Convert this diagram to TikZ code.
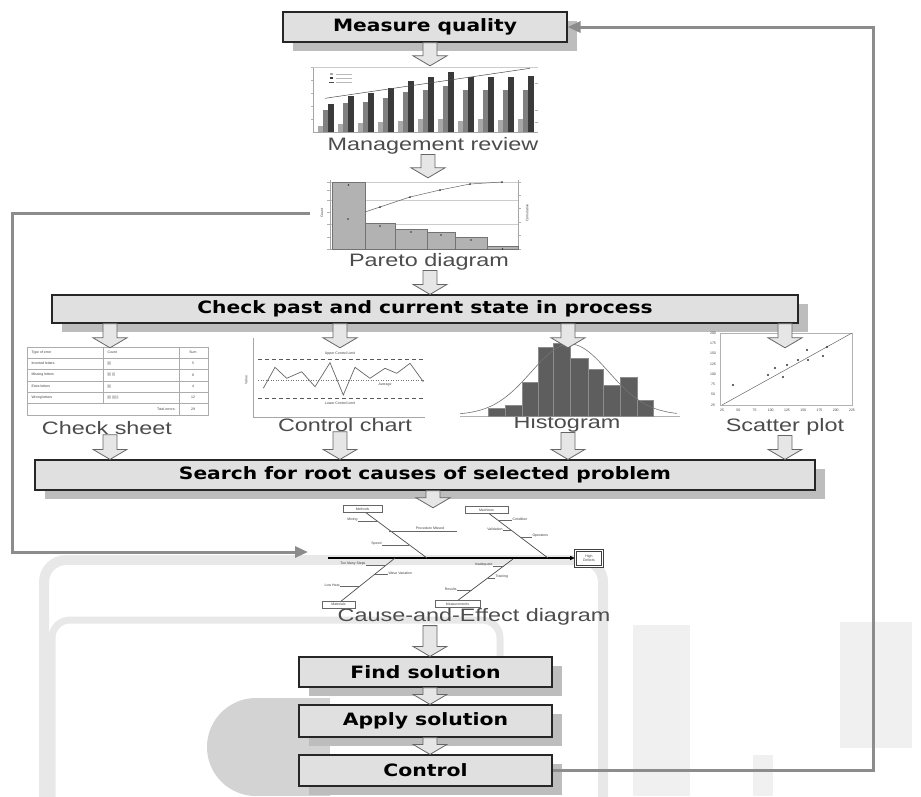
\documentclass[tikz,border=0pt]{standalone}
\usepackage{fontspec}
\setmainfont{Liberation Sans}
\newfontfamily\boxfont{DejaVu Sans}
\usetikzlibrary{arrows.meta,calc,shadows}
\definecolor{boxfill}{HTML}{E0E0E0}
\definecolor{shadowc}{HTML}{BDBDBD}
\definecolor{linec}{HTML}{8C8C8C}
\definecolor{arrowfill}{HTML}{E6E6E6}
\definecolor{wmA}{HTML}{E8E8E8}
\definecolor{wmC}{HTML}{F0F0F0}
\definecolor{wmB}{HTML}{D3D3D3}
\definecolor{barlight}{HTML}{A8A8A8}
\definecolor{barmid}{HTML}{808080}
\definecolor{bardark}{HTML}{3A3A3A}
\definecolor{histbar}{HTML}{5E5E5E}
\newcommand\capt[1]{\scalebox{1.3}[1]{#1}}
\newcommand\blk[3]{\draw[barrow] let \p1=(#2), \p2=(#3) in
  (#1pt-7pt,\y1) -- (#1pt+7pt,\y1) -- (#1pt+7pt,\y2+10pt) -- (#1pt+17pt,\y2+10pt)
  -- (#1pt,\y2) -- (#1pt-17pt,\y2+10pt) -- (#1pt-7pt,\y2+10pt) -- cycle;}
\begin{document}
\begin{tikzpicture}[x=1pt,y=-1pt,
  procbox/.style={draw=black!85, line width=1.2pt, fill=boxfill, inner sep=0pt,
    font=\boxfont\bfseries\fontsize{17}{20}\selectfont, text=black,
    drop shadow={shadow xshift=10pt, shadow yshift=-9pt, fill=shadowc, opacity=1}},
  barrow/.style={draw=black!60, fill=arrowfill, line width=0.8pt, line join=miter},
  fb/.style={draw=linec, line width=3pt},
  captxt/.style={font=\fontsize{18}{18}\selectfont, text=black!70, inner sep=0pt},
  chartframe/.style={inner sep=0pt, draw=none},
  tinyt/.style={font=\fontsize{3.5}{4}\selectfont, inner sep=0.3pt, text=black!75},
  axl/.style={draw=gray!70, line width=0.5pt},
  bone/.style={draw=black!70, line width=0.7pt},
  sub/.style={draw=black!60, line width=0.4pt},
  lbox/.style={draw=black!60, line width=0.8pt, fill=white, inner sep=0.6pt, font=\fontsize{3.5}{4}\selectfont, text=black!75}
]
\useasboundingbox (0,0) rectangle (921,796);
\fill[white] (0,0) rectangle (921,796);

% ---------- faint background watermark ----------
\draw[wmA, line width=10pt, rounded corners=22pt] (44,800) -- (44,560) -- (603,560) -- (603,800);
\draw[wmA, line width=7pt, rounded corners=18pt] (52,800) -- (52,620) -- (500,620) -- (500,665);
\fill[wmC] (633,625) rectangle (690,796);
\fill[wmC] (840,622) rectangle (912,748);
\fill[wmC] (753,755) rectangle (773,796);
\fill[wmB] (256,747) circle[radius=49];
\fill[wmB] (256,698) rectangle (330,796);

% ---------- process boxes ----------
\node[procbox, minimum width=284pt, minimum height=30pt] (measure) at (425,27) {\scalebox{1.19}[1]{Measure quality}};
\node[procbox, minimum width=746pt, minimum height=28pt] (check) at (425,309) {\scalebox{1.19}[1]{Check past and current state in process}};
\node[procbox, minimum width=780pt, minimum height=30pt] (search) at (425,475) {\scalebox{1.19}[1]{Search for root causes of selected problem}};
\node[procbox, minimum width=253pt, minimum height=30pt] (find) at (425.5,672) {\scalebox{1.2}[1]{Find solution}};
\node[procbox, minimum width=253pt, minimum height=32pt] (apply) at (425.5,721) {\scalebox{1.2}[1]{Apply solution}};
\node[procbox, minimum width=253pt, minimum height=31pt] (ctrl) at (425.5,770.5) {\scalebox{1.2}[1]{Control}};

% ---------- chart frames (invisible) and captions ----------
\node[chartframe, minimum width=225pt, minimum height=66pt] (bar) at (425.5,99) {};
\node[chartframe, minimum width=215pt, minimum height=70pt] (pareto) at (417.5,213) {};
\node[chartframe, minimum width=181pt, minimum height=67pt] (cs) at (117.5,381.5) {};
\node[chartframe, minimum width=184pt, minimum height=70pt] (cc) at (335,383) {};
\node[chartframe, minimum width=220pt, minimum height=68pt] (hist) at (570,382) {};
\node[chartframe, minimum width=155pt, minimum height=70pt] (sc) at (777.5,383) {};
\node[chartframe, minimum width=285pt, minimum height=102pt] (fish) at (462.5,559) {};
\coordinate (fishin) at (308,552);

\node[captxt] (barcap) at (433,146) {\capt{Management review}};
\node[captxt] (parcap) at (429,262) {\capt{Pareto diagram}};
\node[captxt] (cscap) at (107,428) {\capt{Check sheet}};
\node[captxt] (cccap) at (345,425) {\capt{Control chart}};
\node[captxt] (histcap) at (567,424) {\capt{Histogram}};
\node[captxt] (sccap) at (785,427) {\capt{Scatter plot}};
\node[captxt] (fishcap) at (474,617) {\capt{Cause-and-Effect diagram}};

% ---------- management review bar chart ----------
\draw[axl] (313,67) -- (313,132) -- (538,132);
\draw[gray!40, line width=0.4pt] (313,67) -- (538,67);
\foreach \t in {67,80,93,106,119} \draw[gray!60, line width=0.3pt] (311,\t) -- (313,\t);
\foreach \t in {83,110,122} \draw[gray!60, line width=0.3pt] (535,\t) -- (538,\t);
\foreach \i/\l/\m/\d in {0/126/110/104,1/124.3/102.7/95.7,2/123.3/101.7/92.7,3/121.7/98.3/88.3,
  4/120.7/91.7/81,5/119/90/77.3,6/119/86/72.3,7/120.7/90/77.3,8/119/90/77.3,9/120/90/77.3,10/119/90/76}{
  \fill[barlight] (318+20*\i,132) rectangle (323+20*\i,\l);
  \fill[barmid] (323+20*\i,132) rectangle (328+20*\i,\m);
  \fill[bardark] (328+20*\i,132) rectangle (333.5+20*\i,\d);
}
\draw[black!70, line width=0.5pt] (325,98.3) -- (530,68.3);
\fill[barlight] (330,73) rectangle (333,75);
\fill[bardark] (330,77) rectangle (333,79);
\draw[black!70, line width=0.4pt] (329,82) -- (334,82);
\foreach \yy in {74,78,82} \draw[gray!55, line width=0.6pt] (336,\yy) -- (352,\yy);

% ---------- pareto diagram ----------
\foreach \yy in {182,200,224} \draw[gray!40, line width=0.4pt] (330,\yy) -- (518,\yy);
\draw[axl] (330,180) -- (330,249) -- (518,249) -- (518,180);
\foreach \t in {182,190,200,212,224,237,249} \draw[gray!60, line width=0.3pt] (327,\t) -- (330,\t);
\foreach \t in {182,195,208,222,235,249} \draw[gray!60, line width=0.3pt] (518,\t) -- (521,\t);
\foreach \a/\b/\t in {332/365/182,365/395/223,395/427/229,427/455/232,455/487/237,487/518/246}{
  \filldraw[fill=gray!60, draw=black!55, line width=0.4pt] (\a,249) rectangle (\b,\t);
  \fill[black!80] ({(\a+\b)/2},{\t+3}) circle[radius=0.9];
}
\fill[black!80] (348,219) circle[radius=0.9];
\draw[black!60, line width=0.5pt] (365,212) -- (380,207) -- (410,197) -- (440,190) -- (470,184) -- (502,182);
\foreach \p in {(380,207),(410,197),(440,190),(470,184),(502,182)} \fill[black!80] \p circle[radius=1];
\node[tinyt, rotate=90] at (322,213) {Count};
\node[tinyt, rotate=90] at (527,213) {Cumulative};

% ---------- check sheet ----------
\draw[gray!65, line width=0.5pt] (27,347) rectangle (208,415);
\foreach \yy in {358,369,381,392,403} \draw[gray!65, line width=0.4pt] (27,\yy) -- (208,\yy);
\draw[gray!65, line width=0.4pt] (103,347) -- (103,403);
\draw[gray!65, line width=0.4pt] (179,347) -- (179,415);
\foreach \yy/\a/\b/\c in {352.5/Type of error/Count/Sum, 363.5/Inverted letters/{\char"7C\char"7C\char"7C\char"7C}/5,
  375/Missing letters/{\char"7C\char"7C\char"7C\char"7C\ \char"7C\char"7C\char"7C}/8, 386.5/Extra letters/{\char"7C\char"7C\char"7C\char"7C}/4,
  397.5/Wrong letters/{\char"7C\char"7C\char"7C\char"7C\ \char"7C\char"7C\char"7C\char"7C\ \char"7C\char"7C}/12}{
  \node[tinyt, anchor=west] at (31,\yy) {\a};
  \node[tinyt, anchor=west] at (107,\yy) {\b};
  \node[tinyt] at (193,\yy) {\c};
}
\node[tinyt, anchor=east] at (176,409) {Total errors:};
\node[tinyt] at (193,409) {29};

% ---------- control chart ----------
\draw[axl] (253,338) -- (253,417) -- (425,417);
\draw[black!65, line width=0.6pt, dash pattern=on 4pt off 3pt] (258,359) -- (425,359);
\draw[black!65, line width=0.6pt, dash pattern=on 4pt off 3pt] (258,398) -- (425,398);
\draw[black!55, line width=0.5pt, dash pattern=on 1pt off 1.5pt] (258,380) -- (425,380);
\draw[black!60, line width=0.7pt] (263.3,388.3) -- (275,367.3) -- (286.7,378.3) -- (301.7,371.7) -- (315,386.7)
  -- (330,362.7) -- (343.3,395) -- (355,367.3) -- (370,378.3) -- (385,368.3) -- (396.7,373.3) -- (410,363.3) -- (423.3,381.7);
\node[tinyt] at (340,354) {Upper Control Limit};
\node[tinyt] at (385,385) {Average};
\node[tinyt] at (340,403) {Lower Control Limit};
\node[tinyt, rotate=90] at (246,380) {Value};

% ---------- histogram ----------
\draw[gray!60, line width=0.5pt] (460,416) -- (680,416);
\foreach \a/\b/\t in {488/505/408,505/522/405,522/538/382,538/553/347,553/570/343,570/588/358,588/603/369,603/620/385,620/637/377,637/653/400}{
  \filldraw[fill=histbar, draw=black!45, line width=0.4pt] (\a,416) rectangle (\b,\t);
}
\draw[black!55, line width=0.6pt, domain=460:677, samples=70, smooth] plot (\x,{415-71*exp(-((\x-570)^2)/3008)});

% ---------- scatter plot ----------
\draw[gray!60, line width=0.5pt] (720,333) rectangle (852,405);
\draw[black!60, line width=0.5pt] (722,405) -- (852,333);
\foreach \p in {(733,385),(768,375),(775,368),(783,377),(787,365),(798,360),(807,350),(808,360),(823,356),(827,347)}
  \fill[black!80] \p circle[radius=1.2];
\foreach \k/\v in {0/25,1/50,2/75,3/100,4/125,5/150,6/175,7/200} \node[tinyt] at (713,{405-\k*10.3}) {\v};
\foreach \k/\v in {0/25,1/50,2/75,3/100,4/125,5/150,6/175,7/200,8/225} \node[tinyt] at ({722+\k*16.25},410) {\v};

% ---------- cause and effect diagram ----------
\draw[black, line width=1.3pt, -{Triangle[length=5pt,width=4pt]}] (328,558) -- (575,558);
\draw[bone] (427,558) -- (365,512);
\draw[bone] (548,558) -- (487,512);
\draw[bone] (395,558) -- (340,602);
\draw[bone] (513,559) -- (457,601);
\node[lbox, minimum width=39pt, minimum height=7pt] (methods) at (362.5,509) {Methods};
\node[lbox, minimum width=43pt, minimum height=7pt] (machines) at (486.5,510) {Machines};
\node[lbox, minimum width=33pt, minimum height=7pt] (materials) at (338.5,604.5) {Materials};
\node[lbox, minimum width=45pt, minimum height=7pt] (measurements) at (457.5,604) {Measurements};
\node[draw=black!75, line width=1pt, double=white, double distance=0.6pt, fill=white, minimum width=27pt, minimum height=16pt,
  inner sep=0pt, align=center, font=\fontsize{3.5}{4}\selectfont, text=black!75] (effect) at (589,558.5) {High\\Defects};
% sub-causes
\draw[sub] (358,521) -- (377,521);  \node[tinyt, anchor=east] at (358,520) {Mixing};
\draw[sub] (389,531) -- (457,531);  \node[tinyt] at (430,528) {Procedure Missed};
\draw[sub] (382,545) -- (409,545);  \node[tinyt, anchor=east] at (382,544) {Speed};
\draw[sub] (498,520) -- (512,520);  \node[tinyt, anchor=west] at (512,519) {Condition};
\draw[sub] (503,530) -- (511,530);  \node[tinyt, anchor=east] at (503,529) {Validation};
\draw[sub] (520,537) -- (532,537);  \node[tinyt, anchor=west] at (532,536) {Operators};
\draw[sub] (366,565) -- (386,565);  \node[tinyt, anchor=east] at (366,564) {Too Many Steps};
\draw[sub] (375,574) -- (388,574);  \node[tinyt, anchor=west] at (388,573) {Wave Variation};
\draw[sub] (340,586) -- (360,586);  \node[tinyt, anchor=east] at (340,585) {Low Heat};
\draw[sub] (493,566) -- (504,566);  \node[tinyt, anchor=east] at (493,565) {Inadequate};
\draw[sub] (488,578) -- (495,578);  \node[tinyt, anchor=west] at (495,577) {Training};
\draw[sub] (457,590) -- (472,590);  \node[tinyt, anchor=east] at (457,589) {Results};

% ---------- block arrows ----------
\blk{430}{measure.south}{bar.north}
\blk{428}{barcap.south}{pareto.north}
\blk{430}{parcap.south}{check.north}
\blk{110}{check.south}{cs.north}
\blk{340}{check.south}{cc.north}
\blk{568}{check.south}{hist.north}
\blk{785}{check.south}{sc.north}
\blk{110}{cscap.south}{search.north}
\blk{340}{cccap.south}{search.north}
\blk{568}{histcap.south}{search.north}
\blk{785}{sccap.south}{search.north}
\blk{433}{search.south}{fish.north}
\blk{430}{fishcap.south}{find.north}
\blk{430}{find.south}{apply.north}
\blk{430}{apply.south}{ctrl.north}

% ---------- feedback loops ----------
\draw[fb, -{Triangle[length=13pt,width=11pt]}] (pareto.west) -| (12,552) -- (fishin);
\draw[fb, -{Triangle[length=13pt,width=11pt]}] (ctrl.east) -| (873,27) -- (measure.east);
\end{tikzpicture}
\end{document}
